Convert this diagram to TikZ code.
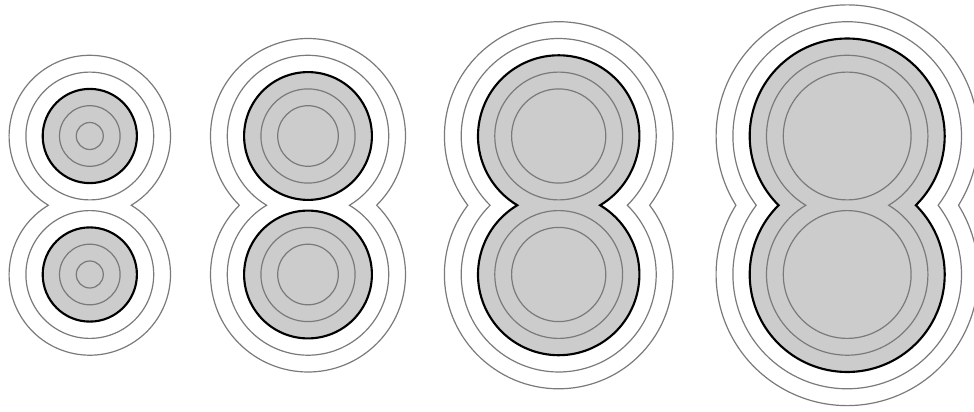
\documentclass[tikz,border=0pt]{standalone}

\tikzset{
  lobe/.style={fill=black!20},
  ring/.style={draw=black!52, line width=0.9pt},
  rim/.style={draw=black, line width=1.6pt},
}
% outline of two equal discs, centres above each other
\newcommand{\lobes}[3]{%
  \pgfmathsetmacro{\lrad}{#3}%
  \ifdim\lrad pt>\half pt
    \pgfmathsetmacro{\lang}{asin(\half/\lrad)}%
    \pgfmathsetmacro{\lwid}{\lrad*cos(\lang)}%
    \path[#1] (#2+\lwid,\midy)
      arc[start angle=-\lang, end angle=180+\lang, radius=\lrad]
      arc[start angle=180-\lang, end angle=360+\lang, radius=\lrad] -- cycle;
  \else
    \path[#1] (#2,\midy+\half) circle[radius=\lrad] (#2,\midy-\half) circle[radius=\lrad];
  \fi}

\begin{document}
\begin{tikzpicture}[x=0.75pt, y=0.75pt]
  \def\midy{205.75} \def\half{69.25}
  \useasboundingbox (0,0) rectangle (974,411);
  \foreach \cx/\k in {89.8/0, 308/1, 558.7/2, 847.2/3} {
    \lobes{lobe}{\cx}{13.5+16.8*(\k+2)}
    \foreach \j in {0,1,3,4} { \lobes{ring}{\cx}{13.5+16.8*(\k+\j)} }
    \lobes{rim}{\cx}{13.5+16.8*(\k+2)}
  }
\end{tikzpicture}
\end{document}
